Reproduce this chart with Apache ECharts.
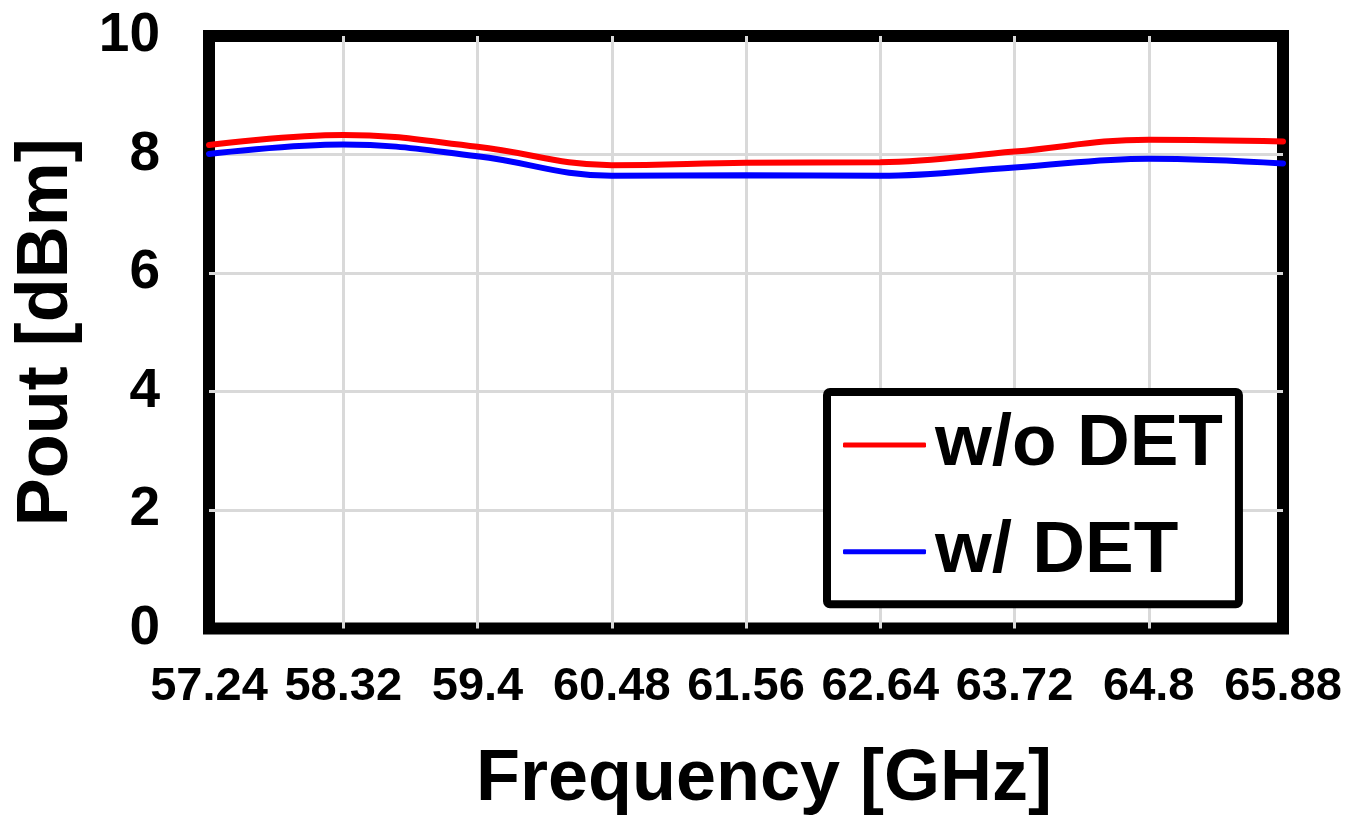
<!DOCTYPE html>
<html>
<head>
<meta charset="utf-8">
<title>Pout vs Frequency</title>
<script src="https://cdn.jsdelivr.net/npm/echarts@6/dist/echarts.min.js"></script>
<style>
  html, body { margin: 0; padding: 0; background: #fff; }
  #chart { width: 1348px; height: 818px; }
</style>
</head>
<body>
<div id="chart"></div>
<script>
// frequency points [GHz]
const freqs = ['57.24', '58.32', '59.4', '60.48', '61.56', '62.64', '63.72', '64.8', '65.88']
// output power [dBm]
const poutNoDet = [8.16, 8.33, 8.13, 7.82, 7.86, 7.87, 8.05, 8.25, 8.22]
const poutDet = [8.01, 8.17, 7.97, 7.64, 7.65, 7.64, 7.78, 7.93, 7.85]
const seriesNames = ['w/o DET', 'w/ DET']

const FONT = "'Liberation Sans', Arial, sans-serif"

const makeLine = (name, data, color) => {
    return {
        name: name,
        type: 'line',
        data: data,
        smooth: 0.4,
        symbol: 'none',
        lineStyle: { color: color, width: 6, cap: 'round' },
        itemStyle: { color: color }
    }
}

const gridLine = {
    show: true,
    showMinLine: false,
    showMaxLine: false,
    lineStyle: { color: '#d9d9d9', width: 3 }
}

const setOption = () => {
    return {
        animation: false,
        textStyle: { fontFamily: FONT },
        grid: {
            left: 209,
            right: 65,
            top: 36,
            bottom: 189.5,
            outerBoundsMode: 'none',
            containLabel: false,
            show: true,
            borderColor: '#000',
            borderWidth: 12,
            backgroundColor: 'transparent'
        },
        legend: {
            orient: 'vertical',
            left: 827,
            top: 392,
            padding: [16.5, 16, 16, 16],
            itemGap: 33.7,
            itemWidth: 83,
            itemHeight: 5,
            icon: 'roundRect',
            borderColor: '#000',
            borderWidth: 8,
            borderRadius: 3,
            backgroundColor: '#fff',
            textStyle: {
                fontFamily: FONT,
                fontSize: 73,
                fontWeight: 'bold',
                color: '#000',
                lineHeight: 73,
                padding: [0, 0, 0, 4]
            },
            data: seriesNames
        },
        xAxis: {
            type: 'category',
            data: freqs,
            boundaryGap: false,
            name: 'Frequency [GHz]',
            nameLocation: 'middle',
            nameGap: 116,
            nameTextStyle: {
                fontFamily: FONT,
                fontSize: 72,
                fontWeight: 'bold',
                color: '#000',
                padding: [0, 0, 0, 36]
            },
            axisLine: { show: false },
            axisTick: { show: false },
            axisLabel: {
                interval: 0,
                margin: 35,
                fontFamily: FONT,
                fontSize: 47,
                fontWeight: 'bold',
                color: '#000'
            },
            splitLine: gridLine
        },
        yAxis: {
            type: 'value',
            min: 0,
            max: 10,
            interval: 2,
            name: 'Pout [dBm]',
            nameLocation: 'middle',
            nameGap: 126,
            nameTextStyle: {
                fontFamily: FONT,
                fontSize: 72,
                fontWeight: 'bold',
                color: '#000'
            },
            axisLine: { show: false },
            axisTick: { show: false },
            axisLabel: {
                margin: 49,
                fontFamily: FONT,
                fontSize: 55,
                fontWeight: 'bold',
                color: '#000'
            },
            splitLine: gridLine
        },
        series: [
            makeLine(seriesNames[0], poutNoDet, '#ff0000'),
            makeLine(seriesNames[1], poutDet, '#0000ff')
        ]
    }
}

const chart = echarts.init(document.getElementById('chart'), null, { renderer: 'canvas' })
chart.setOption(setOption())
</script>
</body>
</html>
